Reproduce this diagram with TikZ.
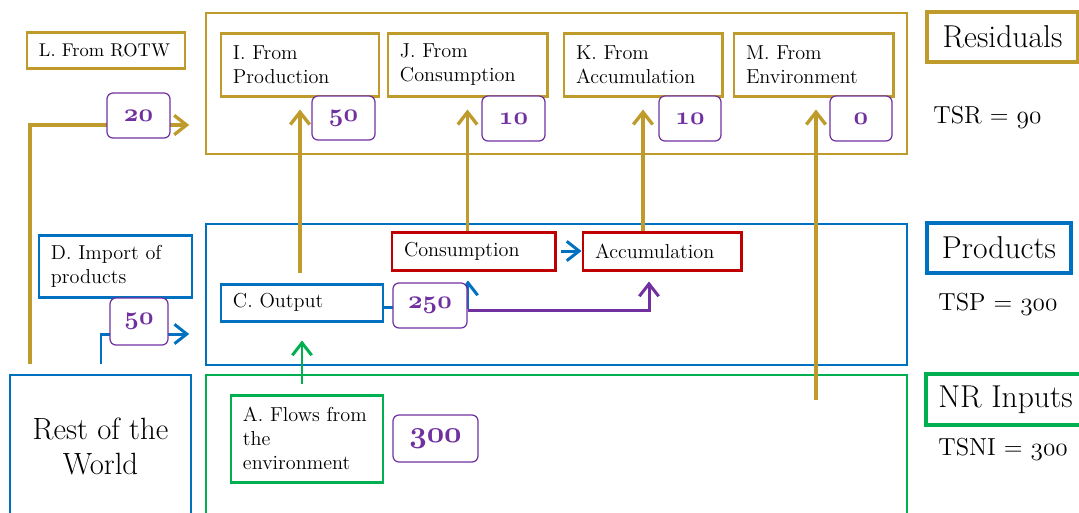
\documentclass[tikz,border=0pt]{standalone}
\usetikzlibrary{arrows.meta}
\definecolor{gold}{RGB}{191,155,44}
\definecolor{oblue}{RGB}{0,112,192}
\definecolor{ogreen}{RGB}{0,176,80}
\definecolor{ored}{RGB}{192,0,0}
\definecolor{opurple}{RGB}{112,48,160}

% old-style figures, regular and bold
\newcommand{\plainold}[1]{{\usefont{OML}{cmm}{m}{it}#1}}
\newcommand{\boldold}[1]{{\usefont{OML}{cmm}{b}{it}#1}}

% box from corner (x1,y1) to (x2,y2), text centred
\newcommand{\putzone}[7]{%
  \pgfmathsetmacro\pzw{(#4-#2)*0.02}%
  \pgfmathsetmacro\pzh{(#5-#3)*0.02}%
  \node[#6,minimum width=\pzw cm,minimum height=\pzh cm] (#1) at ({(#2+#4)/2},{(#3+#5)/2}) {#7};}
% box from corner (x1,y1) to (x2,y2), text set flush left
\newcommand{\putbox}[7]{%
  \pgfmathsetmacro\pzw{(#4-#2)*0.02}%
  \pgfmathsetmacro\pzh{(#5-#3)*0.02}%
  \pgfmathsetmacro\pzt{(#4-#2)*0.02-0.48}%
  \node[#6,minimum width=\pzw cm,minimum height=\pzh cm,text width=\pzt cm] (#1) at ({(#2+#4)/2},{(#3+#5)/2}) {#7};}

\begin{document}
\begin{tikzpicture}[x=0.02cm,y=-0.02cm,
  zone/.style={draw,line width=0.9pt,inner sep=0pt},
  lbl/.style={draw,line width=1.7pt,fill=white,inner xsep=0.24cm,inner ysep=0pt,
    align=left,font=\fontsize{11.5}{13.7}\selectfont},
  num/.style={draw=opurple,line width=0.7pt,rounded corners=0.12cm,fill=white,
    text=opurple,inner sep=0pt,font=\fontsize{14.5}{16}\selectfont},
  ttl/.style={draw,line width=2pt,fill=white,inner sep=0pt,font=\fontsize{18}{21}\selectfont},
  total/.style={anchor=base west,inner sep=0pt,font=\fontsize{14}{16}\selectfont},
  tip/.style={-{Straight Barb[length=7pt,width=11pt]}},
  goldflow/.style={tip,draw=gold,line width=1.9pt},
  blueflow/.style={tip,draw=oblue,line width=1.7pt},
  greenflow/.style={tip,draw=ogreen,line width=1.7pt},
  purpleflow/.style={tip,draw=opurple,line width=1.7pt}]

\useasboundingbox (0,0) rectangle (1079,512);
\clip (0,0) rectangle (1079,512);

% accounting zones
\putzone{resbox}{206}{13}{907}{154}{zone,draw=gold}{}
\putzone{prodbox}{206}{224}{907}{365}{zone,draw=oblue}{}
\putzone{nrbox}{206}{375}{907}{520}{zone,draw=ogreen}{}
\putzone{rotw}{10}{375}{191}{518}{zone,draw=oblue,align=center,font=\fontsize{17.5}{20}\selectfont}{Rest of the\\World}

% flow end points that are not nodes
\coordinate (rotwbend) at (30,125);
\coordinate (impbend) at (101,334);
\coordinate (envstart) at (816,400);

% flows from the rest of the world
\draw[goldflow,shorten <=0.2cm,shorten >=0.32cm] (rotwbend |- rotw.north) -- (rotwbend) -- (resbox.west |- rotwbend);
\draw[blueflow,shorten <=0.2cm,shorten >=0.32cm] (impbend |- rotw.north) -- (impbend) -- (prodbox.west |- impbend);

% product and activity boxes
\putbox{imp}{39}{235}{192}{297}{lbl,draw=oblue}{D. Import of\\products}
\putbox{out}{221}{284}{383}{321}{lbl,draw=oblue}{C. Output}
\putbox{cons}{392}{232}{555}{270}{lbl,draw=ored}{Consumption}
\putbox{accum}{583}{232}{741}{270}{lbl,draw=ored}{Accumulation}
\putbox{flows}{231}{395}{383}{482}{lbl,draw=ogreen}{A. Flows from\\the\\environment}

% residual boxes
\putbox{rotwres}{27}{32}{185}{68}{lbl,draw=gold,font=\fontsize{10.5}{13}\selectfont}{L. From ROTW}
\putbox{fromprod}{221}{33}{379}{96}{lbl,draw=gold}{I. From\\Production}
\putbox{fromcons}{388}{33}{547}{96}{lbl,draw=gold}{J. From\\Consumption}
\putbox{fromacc}{564}{33}{722}{96}{lbl,draw=gold}{K. From\\Accumulation}
\putbox{fromenv}{734}{33}{893}{96}{lbl,draw=gold}{M. From\\Environment}

% flows into residuals
\draw[goldflow,shorten <=0.2cm,shorten >=0.24cm] (out.north -| fromprod.south) -- (fromprod.south);
\draw[goldflow,shorten >=0.24cm] (cons.north -| fromcons.south) -- (fromcons.south);
\draw[goldflow,shorten >=0.24cm] (accum.north -| fromacc.south) -- (fromacc.south);
\draw[goldflow,shorten >=0.24cm] (envstart) -- (envstart |- fromenv.south);

% flows between products
\draw[greenflow,shorten <=0.2cm,shorten >=0.36cm] (flows.north -| out.south) -- (out.south);
\draw[blueflow,shorten <=0.1cm] (cons.east) -- (accum.west);
\draw[blueflow,shorten >=0.18cm] ([yshift=-0.1cm]out.east) -| ([xshift=-0.11cm]cons.south);

% flow values
\putzone{v20}{107}{93}{170}{138}{num}{\boldold{20}}
\putzone{v50i}{312}{96}{375}{140}{num}{\boldold{50}}
\putzone{v10j}{482}{96}{545}{141}{num}{\boldold{10}}
\putzone{v10k}{659}{96}{721}{141}{num}{\boldold{10}}
\putzone{v0m}{830}{96}{892}{141}{num}{\boldold{0}}
\putzone{v50d}{110}{298}{168}{345}{num}{\boldold{50}}
\putzone{v250}{393}{283}{467}{328}{num}{\boldold{250}}
\putzone{v300}{393}{415}{478}{462}{num,font=\fontsize{16.5}{18}\selectfont}{\boldold{300}}

\draw[purpleflow,shorten >=0.2cm] ([yshift=-0.09cm]v250.east) -| ([xshift=-0.26cm]accum.south);

% account titles and totals
\putzone{tres}{927}{12}{1078}{62}{ttl,draw=gold}{Residuals}
\putzone{tprod}{927}{223}{1071}{273}{ttl,draw=oblue}{Products}
\putzone{tnr}{926}{374}{1085}{425}{ttl,draw=ogreen}{NR Inputs}
\node[total] (tsr) at (933,123) {TSR = \plainold{90}};
\node[total] (tsp) at (938,310) {TSP = \plainold{300}};
\node[total] (tsni) at (938,455) {TSNI = \plainold{300}};
\end{tikzpicture}
\end{document}
